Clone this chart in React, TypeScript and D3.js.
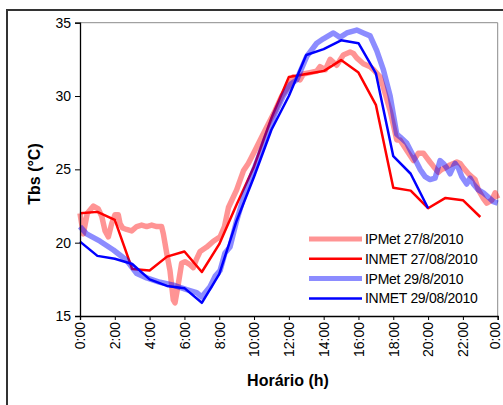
import React, { useEffect, useRef } from "react";
import * as d3 from "d3";

// IPMet 27/08/2010 (hora decimal, Tbs)
const ipmet27Hours = [0, 0.19, 0.42, 0.77, 1.05, 1.25, 1.44, 1.63, 1.82, 2.01, 2.2, 2.3, 2.45, 2.68, 2.97, 3.26, 3.54, 3.83, 4.12, 4.41, 4.69, 4.79, 4.98, 5.17, 5.36, 5.46, 5.65, 5.84, 6.03, 6.32, 6.51, 6.7, 6.9, 7.28, 7.66, 8.05, 8.3, 8.53, 9.0, 9.39, 9.67, 10.06, 10.44, 10.82, 11.21, 11.59, 12.0, 12.26, 12.64, 12.83, 13.2, 13.6, 13.79, 14.1, 14.37, 14.75, 15.13, 15.52, 15.71, 15.9, 16.28, 16.67, 16.86, 17.24, 17.43, 17.82, 18.2, 18.39, 18.77, 19.16, 19.44, 19.73, 19.92, 20.11, 20.31, 20.59, 20.78, 20.98, 21.26, 21.46, 21.65, 21.84, 22.03, 22.32, 22.51, 22.7, 22.89, 23.18, 23.37, 23.66, 23.85, 24.0];
const ipmet27Values = [22.0, 20.6, 22.0, 22.5, 22.3, 21.8, 20.8, 20.4, 21.3, 21.9, 21.9, 21.3, 21.0, 20.9, 20.8, 21.1, 21.2, 21.1, 21.2, 21.1, 21.1, 20.6, 19.3, 18.1, 16.1, 15.9, 17.2, 18.6, 18.7, 18.5, 18.3, 18.9, 19.4, 19.7, 20.1, 20.4, 21.1, 22.4, 23.6, 24.9, 25.4, 26.3, 27.2, 28.1, 29.0, 30.0, 30.7, 31.3, 31.1, 31.5, 31.6, 31.7, 32.0, 31.8, 32.5, 32.1, 32.8, 33.0, 32.9, 32.6, 32.2, 32.0, 31.8, 31.3, 30.6, 29.0, 27.0, 27.0, 26.3, 25.6, 26.1, 26.1, 25.8, 25.5, 25.2, 24.8, 25.0, 25.1, 25.3, 25.4, 25.5, 25.4, 25.1, 24.7, 24.5, 24.3, 23.6, 23.0, 22.7, 22.9, 23.4, 23.0];

// INMET 27/08/2010 (horário)
const inmet27Hours = [0, 1, 2, 3, 4, 5, 6, 7, 8, 9, 10, 11, 12, 13, 14, 15, 16, 17, 18, 19, 20, 21, 22, 23];
const inmet27Values = [22.0, 22.1, 21.55, 18.2, 18.1, 19.05, 19.4, 18.0, 19.9, 22.6, 25.2, 28.5, 31.3, 31.5, 31.7, 32.45, 31.6, 29.4, 23.75, 23.55, 22.35, 23.05, 22.9, 21.75];

// IPMet 29/08/2010
const ipmet29Hours = [0, 0.38, 1.15, 1.92, 2.68, 3.26, 3.83, 4.6, 5.36, 6.13, 6.7, 6.99, 7.47, 7.76, 8.05, 8.33, 8.62, 9.0, 9.48, 10.06, 10.63, 11.2, 11.68, 12.1, 12.45, 13.03, 13.6, 13.98, 14.56, 14.94, 15.33, 15.9, 16.28, 16.67, 17.05, 17.43, 17.82, 18.2, 18.4, 18.77, 19.16, 19.54, 19.83, 20.11, 20.4, 20.69, 20.88, 21.07, 21.26, 21.46, 21.55, 21.74, 21.94, 22.22, 22.41, 22.6, 22.89, 23.18, 23.47, 23.75, 24.0];
const ipmet29Values = [21.1, 20.6, 20.1, 19.5, 18.8, 17.9, 17.6, 17.3, 17.1, 16.8, 16.6, 16.3, 17.0, 17.7, 18.1, 19.3, 19.7, 21.5, 23.4, 25.2, 27.0, 28.8, 30.0, 30.8, 31.1, 32.7, 33.6, 33.9, 34.3, 34.0, 34.3, 34.5, 34.3, 34.1, 33.1, 31.8, 30.0, 27.4, 27.2, 26.8, 25.9, 25.0, 24.5, 24.3, 24.4, 25.6, 25.4, 25.1, 24.7, 25.2, 25.4, 25.1, 24.5, 24.0, 24.4, 24.0, 23.6, 23.4, 23.1, 22.8, 22.7];

// INMET 29/08/2010
const inmet29Hours = [0, 1, 2, 3, 4, 5, 6, 7, 8, 9, 10, 11, 12, 13, 14, 15, 16, 17, 18, 19, 20];
const inmet29Values = [20.07, 19.1, 18.9, 18.55, 17.5, 17.05, 16.9, 15.9, 17.85, 21.5, 24.5, 27.7, 30.0, 32.8, 33.2, 33.8, 33.6, 31.55, 25.9, 24.7, 22.35];

const seriesNames = ["IPMet 27/8/2010", "INMET 27/08/2010", "IPMet 29/8/2010", "INMET 29/08/2010"];
const yTicks = [15, 20, 25, 30, 35];
const xTicks = [0, 2, 4, 6, 8, 10, 12, 14, 16, 18, 20, 22, 24];

const FONT = "'Liberation Sans', Arial, sans-serif";

export default function App() {
  const svgRef = useRef<SVGSVGElement | null>(null);

  useEffect(() => {
    if (!svgRef.current) return;
    const svg = d3.select(svgRef.current);
    svg.selectAll("*").remove();

    const left = 80, right = 497.7, top = 22.7, bottom = 316;
    const x = d3.scaleLinear().domain([0, 24]).range([left, right]);
    const y = d3.scaleLinear().domain([15, 35]).range([bottom, top]);

    // outer chart frame
    svg.append("rect")
      .attr("x", 7).attr("y", 10).attr("width", 520).attr("height", 420)
      .attr("fill", "white").attr("stroke", "#333").attr("stroke-width", 2);

    // plot area border (gray top/right)
    svg.append("path")
      .attr("d", `M${left},${top}H${right}V${bottom}`)
      .attr("fill", "none").attr("stroke", "#8c8c8c").attr("stroke-width", 1);

    const series = [
      { hours: ipmet27Hours, values: ipmet27Values, color: "#ff0000", width: 5.5, opacity: 0.42 },
      { hours: inmet27Hours, values: inmet27Values, color: "#ff0000", width: 2.5, opacity: 1 },
      { hours: ipmet29Hours, values: ipmet29Values, color: "#0000ff", width: 5.5, opacity: 0.45 },
      { hours: inmet29Hours, values: inmet29Values, color: "#0000ff", width: 2.5, opacity: 1 },
    ];

    const line = d3.line<[number, number]>()
      .x(d => x(d[0]))
      .y(d => y(d[1]));

    series.forEach(s => {
      const pts = s.hours.map((h, i) => [h, s.values[i]] as [number, number]);
      svg.append("path")
        .datum(pts)
        .attr("d", line)
        .attr("fill", "none")
        .attr("stroke", s.color)
        .attr("stroke-opacity", s.opacity)
        .attr("stroke-width", s.width)
        .attr("stroke-linejoin", "round");
    });

    // y axis
    const yAxis = svg.append("g").attr("transform", `translate(${left},0)`);
    yAxis.call(
      d3.axisLeft(y).tickValues(d3.range(15, 36, 1)).tickSize(3).tickFormat(() => "")
    );
    yAxis.call(
      d3.axisLeft(y).tickValues(yTicks).tickSize(5).tickFormat(d3.format("d"))
    );
    yAxis.selectAll(".domain").attr("stroke", "#000").attr("stroke-width", 1.3);
    yAxis.selectAll("line").attr("stroke", "#000");
    yAxis.selectAll("text")
      .attr("font-family", FONT).attr("font-size", 14).attr("fill", "#000")
      .attr("x", -9);

    // x axis
    const xAxis = svg.append("g").attr("transform", `translate(0,${bottom})`);
    xAxis.call(
      d3.axisBottom(x).tickValues(d3.range(0, 25, 1)).tickSize(4).tickFormat(() => "")
    );
    xAxis.call(
      d3.axisBottom(x).tickValues(xTicks).tickSize(4)
        .tickFormat(d => `${(d as number) % 24}:00`)
    );
    xAxis.selectAll(".domain").attr("stroke", "#000").attr("stroke-width", 1.3);
    xAxis.selectAll("line").attr("stroke", "#000");
    // last label sits on the window edge, nudge it in a little
    xAxis.selectAll<SVGTextElement, number>("text")
      .attr("font-family", FONT).attr("font-size", 14).attr("fill", "#000")
      .attr("transform", "rotate(-90)")
      .attr("text-anchor", "end")
      .attr("x", -6)
      .attr("y", d => (d === 24 ? -3.5 : 0))
      .attr("dy", "0.35em");

    // axis titles
    svg.append("text")
      .attr("transform", "translate(40,174) rotate(-90)")
      .attr("text-anchor", "middle")
      .attr("font-family", FONT).attr("font-size", 16).attr("font-weight", "bold")
      .text("Tbs (°C)");

    svg.append("text")
      .attr("x", 288).attr("y", 386)
      .attr("text-anchor", "middle")
      .attr("font-family", FONT).attr("font-size", 16).attr("font-weight", "bold")
      .text("Horário (h)");

    // legend
    const legend = svg.append("g");
    series.forEach((s, i) => {
      const ly = 239 + i * 19.8;
      legend.append("line")
        .attr("x1", 309).attr("x2", 362).attr("y1", ly).attr("y2", ly)
        .attr("stroke", s.color).attr("stroke-opacity", s.opacity)
        .attr("stroke-width", s.width > 3 ? 5 : 2.5);
      legend.append("text")
        .attr("x", 365).attr("y", ly).attr("dy", "0.35em")
        .attr("font-family", FONT).attr("font-size", 14).attr("fill", "#000")
        .attr("letter-spacing", -0.3)
        .text(seriesNames[i]);
    });
  }, []);

  return (
    <svg
      ref={svgRef}
      width={503}
      height={405}
      style={{ position: "absolute", left: 0, top: 0, background: "white" }}
    />
  );
}
